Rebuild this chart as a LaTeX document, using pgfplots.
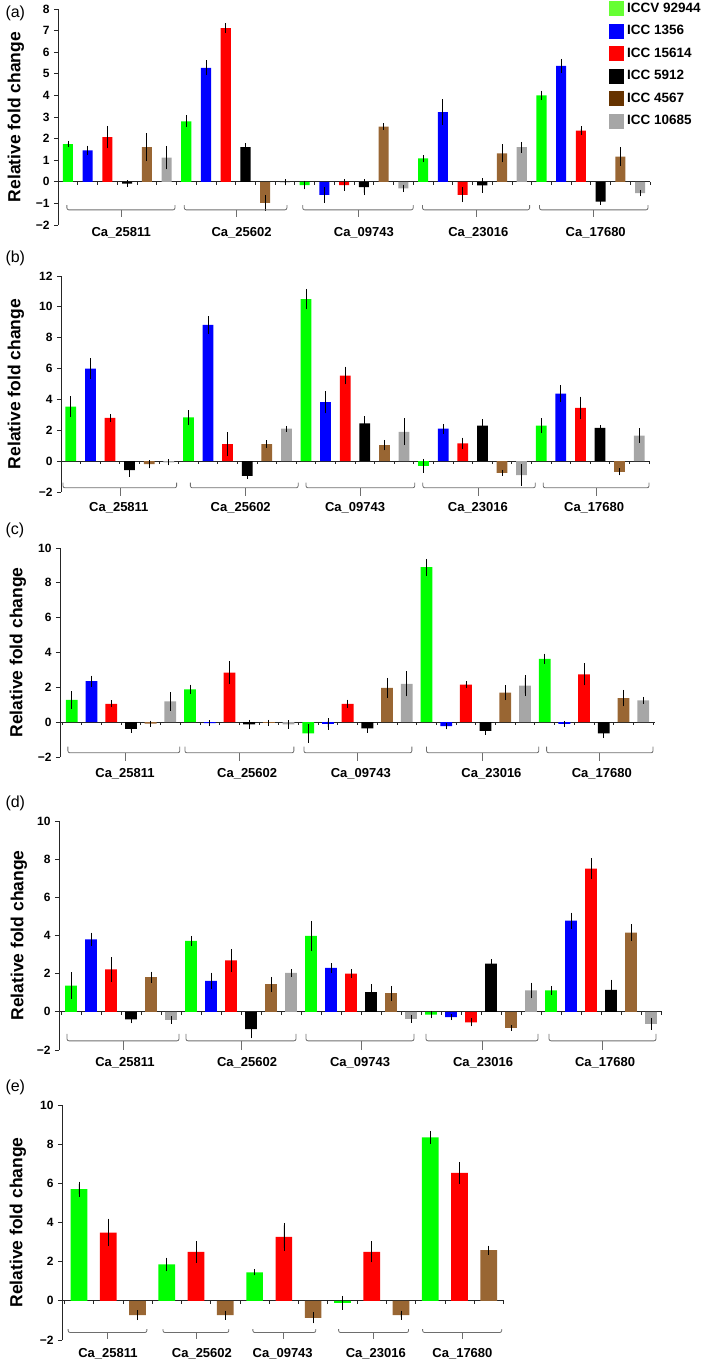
\documentclass[border=0pt]{standalone}
\usepackage{fontspec}
\setmainfont{Liberation Sans}
\usepackage{pgfplots}
\pgfplotsset{compat=1.18}
\usepackage{pgfplotstable}

\definecolor{cG}{HTML}{00FF00}
\definecolor{cB}{HTML}{0000FF}
\definecolor{cR}{HTML}{FF0000}
\definecolor{cK}{HTML}{000000}
\definecolor{cN}{HTML}{996633}
\definecolor{cA}{HTML}{A6A6A6}
\definecolor{lG}{HTML}{66FF33}
\definecolor{lN}{HTML}{663300}
\definecolor{brk}{HTML}{6E6E6E}

% panel (a)
\pgfplotstableread{
grp G Ge B Be R Re K Ke N Ne A Ae
0 1.75 0.03 1.45 0.10 2.07 0.40 -0.09 0.03 1.60 0.52 1.12 0.42
1 2.80 0.15 5.28 0.22 7.12 0.10 1.60 0.06 -0.97 0.25 -0.03 0.02
2 -0.15 0.08 -0.60 0.25 -0.15 0.15 -0.25 0.25 2.55 0.03 -0.31 0.05
3 1.09 0.03 3.23 0.46 -0.60 0.22 -0.17 0.22 1.32 0.30 1.60 0.13
4 4.00 0.10 5.37 0.20 2.37 0.08 -0.92 0.03 1.17 0.30 -0.52 0.03
}\ta
% panel (b)
\pgfplotstableread{
grp G Ge B Be R Re K Ke N Ne A Ae
0 3.54 0.50 5.99 0.50 2.80 0.08 -0.58 0.25 -0.20 0.10 -0.08 0.02
1 2.84 0.30 8.83 0.40 1.10 0.60 -0.95 0.03 1.10 0.08 2.10 0.02
2 10.50 0.50 3.82 0.55 5.55 0.40 2.45 0.30 1.04 0.17 1.90 0.70
3 -0.30 0.28 2.10 0.14 1.15 0.20 2.30 0.26 -0.76 0.02 -0.90 0.52
4 2.30 0.31 4.38 0.37 3.45 0.57 2.15 0.02 -0.69 0.07 1.65 0.30
}\tb
% panel (c)
\pgfplotstableread{
grp G Ge B Be R Re K Ke N Ne A Ae
0 1.28 0.35 2.36 0.17 1.05 0.05 -0.38 0.08 -0.08 0.02 1.19 0.38
1 1.88 0.12 -0.06 0.02 2.84 0.50 -0.13 0.12 -0.04 0.02 -0.13 0.10
2 -0.65 0.38 -0.10 0.18 1.05 0.10 -0.35 0.12 1.97 0.42 2.20 0.57
3 8.90 0.33 -0.23 0.03 2.15 0.05 -0.50 0.08 1.69 0.28 2.10 0.45
4 3.64 0.14 -0.10 0.02 2.74 0.48 -0.65 0.12 1.38 0.33 1.25 0.05
}\tc
% panel (d)
\pgfplotstableread{
grp G Ge B Be R Re K Ke N Ne A Ae
0 1.38 0.55 3.80 0.22 2.22 0.50 -0.40 0.07 1.82 0.15 -0.42 0.06
1 3.72 0.12 1.62 0.30 2.70 0.45 -0.90 0.35 1.45 0.25 2.04 0.06
2 3.98 0.65 2.30 0.12 2.00 0.10 1.03 0.28 0.98 0.25 -0.37 0.07
3 -0.15 0.06 -0.28 0.02 -0.55 0.07 2.53 0.10 -0.84 0.02 1.12 0.28
4 1.12 0.10 4.78 0.28 7.50 0.40 1.15 0.40 4.15 0.30 -0.63 0.18
}\td
% panel (e)
\pgfplotstableread{
grp G Ge R Re N Ne
0 5.71 0.25 3.49 0.57 -0.73 0.12
1 1.86 0.22 2.50 0.42 -0.73 0.10
2 1.45 0.02 3.27 0.58 -0.87 0.15
3 -0.10 0.22 2.50 0.40 -0.73 0.10
4 8.35 0.20 6.54 0.42 2.59 0.10
}\te
% tick positions on the zero line
\pgfplotstableread{
x k
-0.5 1
0.5 1
1.5 1
2.5 1
3.5 1
4.5 1
5.5 1
6.5 1
7.5 1
8.5 1
9.5 1
10.5 1
11.5 1
12.5 1
13.5 1
14.5 1
15.5 1
16.5 1
17.5 1
18.5 1
19.5 1
20.5 1
21.5 1
22.5 1
23.5 1
24.5 1
25.5 1
26.5 1
27.5 1
28.5 1
29.5 1
}\ztsix
\pgfplotstableread{
x k
-0.5 1
0.5 1
1.5 1
2.5 1
3.5 1
4.5 1
5.5 1
6.5 1
7.5 1
8.5 1
9.5 1
10.5 1
11.5 1
12.5 1
13.5 1
14.5 1
}\ztthree

\pgfplotsset{
  panel/.style={
    scale only axis, clip=false, anchor=south west,
    axis x line=none, axis y line*=left,
    y axis line style={-, line width=0.8bp, black!85},
    xtick=\empty,
    tick align=outside, major tick length=4bp,
    ytick style={line width=0.8bp, black!85},
    tick label style={font=\fontsize{12bp}{14bp}\selectfont\bfseries},
    yticklabel style={font=\fontsize{12bp}{14bp}\selectfont\bfseries, xshift=-1bp},
    ylabel={Relative fold change},
    ylabel style={at={(axis description cs:0,0.5)}, anchor=center,
      font=\fontsize{17.5bp}{20bp}\selectfont\bfseries},
  },
  mybar/.style={ybar, bar shift=0pt, draw=none, fill=#1, forget plot,
    error bars/.cd, y dir=both, y explicit,
    error bar style={black, line width=0.7bp},
    error mark options={black, mark size=2.6bp, line width=0.7bp}},
}

\newcommand{\brk}[6]{%
  \addplot[brk, line width=0.8bp, rounded corners=2bp, forget plot] coordinates {(#1,#5) (#1,#4) (#2,#4) (#2,#5)};
  \addplot[brk, line width=0.8bp, forget plot] coordinates {(#3,#4) (#3,#6)};
}
\newcommand{\glab}[3]{\node[font=\fontsize{13bp}{15bp}\selectfont\bfseries, anchor=center] at (axis cs:#1,#2) {#3};}
\newcommand{\zl}[2]{%
  \addplot[black!85, line width=0.8bp, forget plot] coordinates {(#1,0) (#2,0)};
}

\newcommand{\sixbars}[1]{%
  \addplot[mybar=cG] table[x expr=\thisrow{grp}*6,   y=G, y error=Ge]{#1};
  \addplot[mybar=cB] table[x expr=\thisrow{grp}*6+1, y=B, y error=Be]{#1};
  \addplot[mybar=cR] table[x expr=\thisrow{grp}*6+2, y=R, y error=Re]{#1};
  \addplot[mybar=cK] table[x expr=\thisrow{grp}*6+3, y=K, y error=Ke]{#1};
  \addplot[mybar=cN] table[x expr=\thisrow{grp}*6+4, y=N, y error=Ne]{#1};
  \addplot[mybar=cA] table[x expr=\thisrow{grp}*6+5, y=A, y error=Ae]{#1};
}

\begin{document}
\begin{tikzpicture}
\useasboundingbox (0,0) rectangle (709bp,-1361bp);

% ---------------- (a)
\begin{axis}[panel, at={(58bp,-225bp)}, width=592bp, height=216bp,
  xmin=-0.5, xmax=29.5, ymin=-2, ymax=8,
  ytick={-2,-1,0,1,2,3,4,5,6,7,8}, yticklabels={−2,−1,0,1,2,3,4,5,6,7,8},
  bar width=0.51, ylabel style={yshift=42bp},
  legend cell align=left,
  legend style={at={(axis description cs:0.930,1.037)}, anchor=north west,
    draw=none, fill=none, inner sep=0pt, outer sep=0pt, row sep=7.5bp,
    nodes={inner xsep=3.5bp, inner ysep=0pt, anchor=west},
    font=\fontsize{13.5bp}{15bp}\selectfont\bfseries},
  legend image code/.code={\fill[#1] (0bp,-7.5bp) rectangle (15bp,7.5bp);},
]
\addlegendimage{fill=lG, draw=none}\addlegendentry{ICCV 92944}
\addlegendimage{fill=cB, draw=none}\addlegendentry{ICC 1356}
\addlegendimage{fill=cR, draw=none}\addlegendentry{ICC 15614}
\addlegendimage{fill=cK, draw=none}\addlegendentry{ICC 5912}
\addlegendimage{fill=lN, draw=none}\addlegendentry{ICC 4567}
\addlegendimage{fill=cA, draw=none}\addlegendentry{ICC 10685}
\zl{-0.5}{29.5}
\addplot[ycomb, black!85, line width=0.7bp, mark=none, forget plot] table[x=x, y expr=-0.14*\thisrow{k}]{\ztsix};
\sixbars{\ta}
\brk{-0.05}{5.43}{2.69}{-1.3}{-1.08}{-1.62}
\brk{5.9}{11.1}{8.53}{-1.3}{-1.08}{-1.62}
\brk{11.9}{17.5}{14.7}{-1.3}{-1.08}{-1.62}
\brk{17.97}{23.4}{20.7}{-1.3}{-1.08}{-1.62}
\brk{23.9}{29.4}{26.65}{-1.3}{-1.08}{-1.62}
\glab{2.7}{-2.37}{Ca\_25811}
\glab{8.8}{-2.37}{Ca\_25602}
\glab{15.0}{-2.37}{Ca\_09743}
\glab{20.8}{-2.37}{Ca\_23016}
\glab{26.75}{-2.37}{Ca\_17680}
\end{axis}

% ---------------- (b)
\begin{axis}[panel, at={(61bp,-492bp)}, width=588bp, height=216bp,
  xmin=-0.5, xmax=29.5, ymin=-2, ymax=12,
  ytick={-2,0,2,4,6,8,10,12}, yticklabels={−2,0,2,4,6,8,10,12},
  bar width=0.55, ylabel style={yshift=45bp},
]
\zl{-0.5}{29.5}
\addplot[ycomb, black!85, line width=0.7bp, mark=none, forget plot] table[x=x, y expr=-0.2*\thisrow{k}]{\ztsix};
\sixbars{\tb}
\brk{-0.4}{5.4}{2.55}{-1.73}{-1.4}{-2.25}
\brk{6.1}{11.6}{8.9}{-1.73}{-1.4}{-2.25}
\brk{12.0}{17.55}{14.8}{-1.73}{-1.4}{-2.25}
\brk{17.96}{23.7}{20.8}{-1.73}{-1.4}{-2.25}
\brk{24.1}{29.5}{26.8}{-1.73}{-1.4}{-2.25}
\glab{2.45}{-3.0}{Ca\_25811}
\glab{8.67}{-3.0}{Ca\_25602}
\glab{14.5}{-3.0}{Ca\_09743}
\glab{20.77}{-3.0}{Ca\_23016}
\glab{26.7}{-3.0}{Ca\_17680}
\end{axis}

% ---------------- (c)
\begin{axis}[panel, at={(60bp,-757bp)}, width=595bp, height=209bp,
  xmin=-0.6, xmax=29.6, ymin=-2, ymax=10,
  ytick={-2,0,2,4,6,8,10}, yticklabels={−2,0,2,4,6,8,10},
  bar width=0.6, ylabel style={yshift=42bp},
]
\zl{-0.6}{29.6}
\addplot[ycomb, black!85, line width=0.7bp, mark=none, forget plot] table[x=x, y expr=-0.17*\thisrow{k}]{\ztsix};
\sixbars{\tc}
\brk{-0.2}{5.48}{2.7}{-1.76}{-1.4}{-2.24}
\brk{5.74}{11.27}{8.53}{-1.76}{-1.4}{-2.24}
\brk{11.78}{17.26}{14.5}{-1.76}{-1.4}{-2.24}
\brk{18.0}{23.7}{20.85}{-1.76}{-1.4}{-2.24}
\brk{24.1}{29.5}{26.8}{-1.76}{-1.4}{-2.24}
\glab{2.7}{-2.97}{Ca\_25811}
\glab{8.9}{-2.97}{Ca\_25602}
\glab{14.67}{-2.97}{Ca\_09743}
\glab{21.3}{-2.97}{Ca\_23016}
\glab{26.9}{-2.97}{Ca\_17680}
\end{axis}

% ---------------- (d)
\begin{axis}[panel, at={(59bp,-1050bp)}, width=603bp, height=229bp,
  xmin=-0.6, xmax=29.55, ymin=-2, ymax=10,
  ytick={-2,0,2,4,6,8,10}, yticklabels={−2,0,2,4,6,8,10},
  bar width=0.58, ylabel style={yshift=40bp},
]
\zl{-0.6}{29.55}
\addplot[ycomb, black!85, line width=0.7bp, mark=none, forget plot] table[x=x, y expr=-0.16*\thisrow{k}]{\ztsix};
\sixbars{\td}
\brk{-0.2}{5.4}{2.6}{-1.52}{-1.15}{-2.02}
\brk{5.75}{11.25}{8.5}{-1.52}{-1.15}{-2.02}
\brk{11.75}{17.15}{14.5}{-1.52}{-1.15}{-2.02}
\brk{17.75}{23.35}{20.55}{-1.52}{-1.15}{-2.02}
\brk{23.9}{29.25}{26.55}{-1.52}{-1.15}{-2.02}
\glab{2.7}{-2.69}{Ca\_25811}
\glab{8.8}{-2.69}{Ca\_25602}
\glab{14.45}{-2.69}{Ca\_09743}
\glab{20.6}{-2.69}{Ca\_23016}
\glab{26.7}{-2.69}{Ca\_17680}
\end{axis}

% ---------------- (e)
\begin{axis}[panel, at={(62bp,-1340bp)}, width=442bp, height=235bp,
  xmin=-0.58, xmax=14.52, ymin=-2, ymax=10,
  ytick={-2,0,2,4,6,8,10}, yticklabels={−2,0,2,4,6,8,10},
  bar width=0.57, ylabel style={yshift=44bp},
]
\zl{-0.58}{14.52}
\addplot[ycomb, black!85, line width=0.7bp, mark=none, forget plot] table[x=x, y expr=-0.15*\thisrow{k}]{\ztthree};
\addplot[mybar=cG] table[x expr=\thisrow{grp}*3,   y=G, y error=Ge]{\te};
\addplot[mybar=cR] table[x expr=\thisrow{grp}*3+1, y=R, y error=Re]{\te};
\addplot[mybar=cN] table[x expr=\thisrow{grp}*3+2, y=N, y error=Ne]{\te};
\brk{-0.37}{2.32}{0.96}{-1.62}{-1.45}{-1.93}
\brk{2.87}{5.12}{4.0}{-1.62}{-1.45}{-1.93}
\brk{5.94}{8.09}{7.0}{-1.62}{-1.45}{-1.93}
\brk{8.87}{11.26}{10.07}{-1.62}{-1.45}{-1.93}
\brk{11.74}{14.44}{13.1}{-1.62}{-1.45}{-1.93}
\glab{0.99}{-2.7}{Ca\_25811}
\glab{4.2}{-2.7}{Ca\_25602}
\glab{6.96}{-2.7}{Ca\_09743}
\glab{10.14}{-2.7}{Ca\_23016}
\glab{13.1}{-2.7}{Ca\_17680}
\end{axis}

\node[anchor=west, font=\fontsize{16bp}{18bp}\selectfont] at (2bp,-13bp) {(a)};
\node[anchor=west, font=\fontsize{16bp}{18bp}\selectfont] at (2bp,-258bp) {(b)};
\node[anchor=west, font=\fontsize{16bp}{18bp}\selectfont] at (2bp,-530bp) {(c)};
\node[anchor=west, font=\fontsize{16bp}{18bp}\selectfont] at (2bp,-803bp) {(d)};
\node[anchor=west, font=\fontsize{16bp}{18bp}\selectfont] at (2bp,-1087bp) {(e)};
\end{tikzpicture}
\end{document}
